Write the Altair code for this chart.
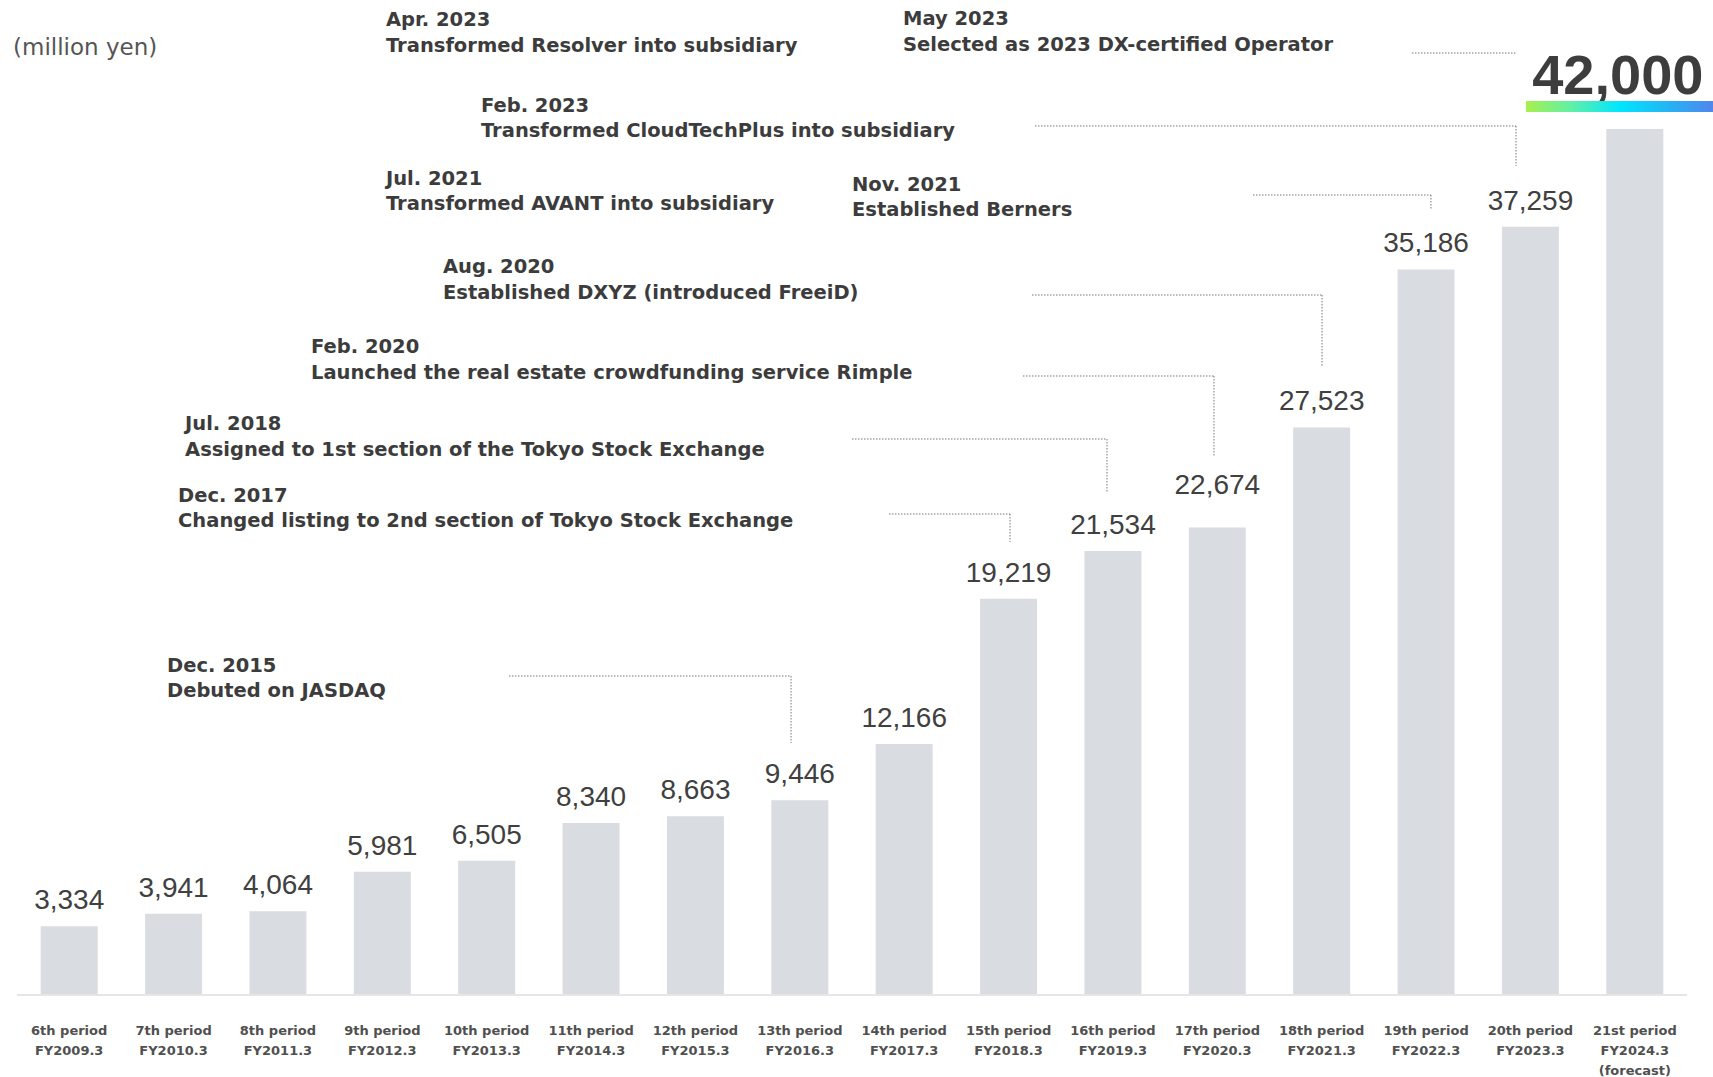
import altair as alt
import pandas as pd

# ---------------- data ----------------
periods = ["6th period", "7th period", "8th period", "9th period", "10th period",
           "11th period", "12th period", "13th period", "14th period", "15th period",
           "16th period", "17th period", "18th period", "19th period", "20th period",
           "21st period"]
fiscal = ["FY2009.3", "FY2010.3", "FY2011.3", "FY2012.3", "FY2013.3", "FY2014.3",
          "FY2015.3", "FY2016.3", "FY2017.3", "FY2018.3", "FY2019.3", "FY2020.3",
          "FY2021.3", "FY2022.3", "FY2023.3", "FY2024.3\n(forecast)"]
sales = [3334, 3941, 4064, 5981, 6505, 8340, 8663, 9446, 12166, 19219,
         21534, 22674, 27523, 35186, 37259, 42000]

# milestones (date, description) and their placement in chart units (bar index, million yen)
ann_dates = ["Apr. 2023", "May 2023", "Feb. 2023", "Jul. 2021", "Nov. 2021",
             "Aug. 2020", "Feb. 2020", "Jul. 2018", "Dec. 2017", "Dec. 2015"]
ann_texts = ["Transformed Resolver into subsidiary",
             "Selected as 2023 DX-certified Operator",
             "Transformed CloudTechPlus into subsidiary",
             "Transformed AVANT into subsidiary",
             "Established Berners",
             "Established DXYZ (introduced FreeiD)",
             "Launched the real estate crowdfunding service Rimple",
             "Assigned to 1st section of the Tokyo Stock Exchange",
             "Changed listing to 2nd section of Tokyo Stock Exchange",
             "Debuted on JASDAQ"]
ann_x = [3.035, 7.989, 3.945, 3.035, 7.5, 3.581, 2.317, 1.110, 1.043, 0.937]
ann_y = [46989, 47037, 42833, 39279, 39002, 35011, 31132, 27398, 23921, 15678]

# leader lines: horizontal part (x from, x to, level) and drop (end level)
lead_x1 = [12.865, 9.253, 11.342, 9.225, 9.138, 7.500, 7.854, 4.214]
lead_x2 = [13.871, 13.862, 13.047, 12.003, 10.968, 9.943, 9.014, 6.916]
lead_y = [45679, 42140, 38794, 33944, 30017, 26962, 23325, 15469]
lead_drop = [45679, 40200, 38066, 30501, 26089, 24343, 21967, 12220]

unit_label = "(million yen)"

# ---------------- frames ----------------
n = len(sales)
bars = pd.DataFrame({
    "idx": list(range(n)),
    "x0": [i - 0.273 for i in range(n)],
    "x1": [i + 0.273 for i in range(n)],
    "base": [0] * n,
    "sales": sales,
    "label": [f"{v:,}" for v in sales],
    "tick": [p + "\n" + f for p, f in zip(periods, fiscal)],
})
ann = pd.DataFrame({"x": ann_x, "y": ann_y,
                    "text": [d + "\n" + t for d, t in zip(ann_dates, ann_texts)]})
leads = pd.DataFrame({"x1": lead_x1, "x2": lead_x2, "y": lead_y, "y2": lead_drop})

xs = alt.Scale(domain=[-0.5, 15.5], nice=False, zero=False)
ys = alt.Scale(domain=[0, 48250], nice=False, zero=False)

FONT = "Liberation Sans"
WIDE = "DejaVu Sans"
TXT = "#404040"

base = alt.Chart(bars)

bar_layer = base.mark_bar(color="#d9dce1").encode(
    x=alt.X("x0:Q", scale=xs, axis=None),
    x2="x1:Q",
    y=alt.Y("sales:Q", scale=ys, axis=None),
    y2="base:Q",
)

value_labels = base.transform_filter("datum.idx < 15 && datum.idx != 11").mark_text(
    font=FONT, fontSize=28, color=TXT, baseline="alphabetic", dy=-17
).encode(
    x=alt.X("idx:Q", scale=xs, axis=None),
    y=alt.Y("sales:Q", scale=ys, axis=None),
    text="label:N",
)

# the 17th-period label sits higher, clear of the leader line
value_label_raised = base.transform_filter("datum.idx == 11").mark_text(
    font=FONT, fontSize=28, color=TXT, baseline="alphabetic", dy=-33
).encode(
    x=alt.X("idx:Q", scale=xs, axis=None),
    y=alt.Y("sales:Q", scale=ys, axis=None),
    text="label:N",
)

big_label = base.transform_filter("datum.idx == 15").mark_text(
    font=FONT, fontSize=56, fontWeight="bold", color="#3d3d3d",
    baseline="alphabetic", dx=-17, dy=-35
).encode(
    x=alt.X("idx:Q", scale=xs, axis=None),
    y=alt.Y("sales:Q", scale=ys, axis=None),
    text="label:N",
)

grad = alt.Chart(pd.DataFrame({"gx": [13.957], "gx2": [15.749],
                               "gy": [42818], "gy2": [43352]})).mark_rect(
    color=alt.LinearGradient(
        gradient="linear", x1=0, y1=0, x2=1, y2=0,
        stops=[alt.GradientStop(color="#a8f04c", offset=0),
               alt.GradientStop(color="#5ef0a8", offset=0.25),
               alt.GradientStop(color="#00e6ff", offset=0.5),
               alt.GradientStop(color="#22b6f4", offset=0.75),
               alt.GradientStop(color="#4f86ee", offset=1)])
).encode(
    x=alt.X("gx:Q", scale=xs, axis=None), x2="gx2:Q",
    y=alt.Y("gy:Q", scale=ys, axis=None), y2="gy2:Q",
)

tick_labels = base.mark_text(
    font=WIDE, fontSize=13, fontWeight="bold", color="#505050",
    baseline="alphabetic", lineBreak="\n", lineHeight=20, dy=40
).encode(
    x=alt.X("idx:Q", scale=xs, axis=None),
    y=alt.Y("base:Q", scale=ys, axis=None),
    text="tick:N",
)

axis_line = alt.Chart(pd.DataFrame({"l": [-0.5], "r": [15.5], "z": [0]})).mark_rule(
    color="#e6e6e6", strokeWidth=2
).encode(
    x=alt.X("l:Q", scale=xs, axis=None), x2="r:Q",
    y=alt.Y("z:Q", scale=ys, axis=None),
)

ann_layer = alt.Chart(ann).mark_text(
    font=WIDE, fontSize=19.5, fontWeight="bold", color="#3c3c3c",
    align="left", baseline="alphabetic", lineBreak="\n", lineHeight=25.5
).encode(
    x=alt.X("x:Q", scale=xs, axis=None),
    y=alt.Y("y:Q", scale=ys, axis=None),
    text="text:N",
)

lead_h = alt.Chart(leads).mark_rule(
    color="#777777", strokeWidth=1, strokeDash=[1.5, 1.5]
).encode(
    x=alt.X("x1:Q", scale=xs, axis=None), x2="x2:Q",
    y=alt.Y("y:Q", scale=ys, axis=None),
)

lead_v = alt.Chart(leads).mark_rule(
    color="#777777", strokeWidth=1, strokeDash=[1.5, 1.5]
).encode(
    x=alt.X("x2:Q", scale=xs, axis=None),
    y=alt.Y("y:Q", scale=ys, axis=None), y2="y2:Q",
)

unit = alt.Chart(pd.DataFrame({"x": [-0.538], "y": [45582], "t": [unit_label]})).mark_text(
    font=WIDE, fontSize=23, color="#555555", align="left", baseline="alphabetic"
).encode(
    x=alt.X("x:Q", scale=xs, axis=None),
    y=alt.Y("y:Q", scale=ys, axis=None),
    text="t:N",
)

chart = alt.layer(
    bar_layer, axis_line, value_labels, value_label_raised, big_label, grad,
    tick_labels, lead_h, lead_v, ann_layer, unit
).properties(
    width=1670, height=995,
    padding={"left": 17, "top": 0, "right": 26, "bottom": 82},
    autosize=alt.AutoSizeParams(type="none"),
    background="white",
).configure_view(stroke=None)

chart.save("out.html", embed_options={"renderer": "svg", "actions": False})
